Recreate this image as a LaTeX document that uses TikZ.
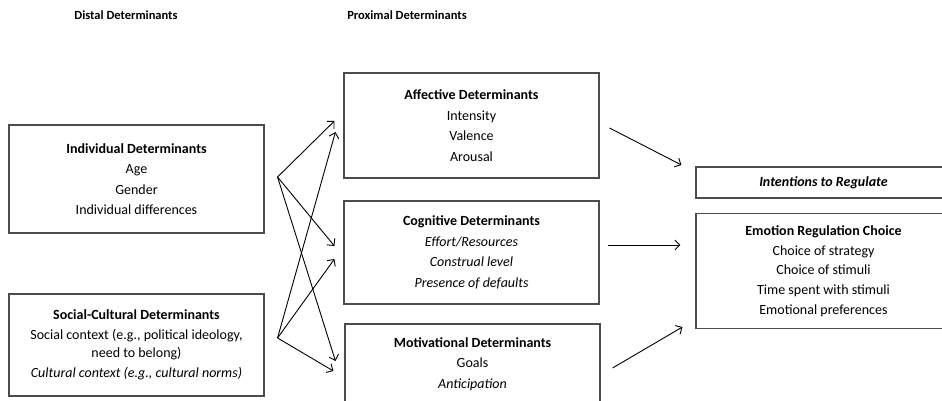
\documentclass[tikz,border=0pt]{standalone}
\usepackage{fontspec}
\setmainfont{Carlito}
\usetikzlibrary{positioning,arrows.meta,calc}
\tikzset{>={Straight Barb[length=5pt,width=10pt]}}

\begin{document}
\begin{tikzpicture}[x=1pt,y=-1pt]
    \tikzset{
      box/.style={draw=black!70, line width=1.1pt, align=center, inner sep=0pt, font=\fontsize{14}{20.5}\selectfont},
      head/.style={font=\fontsize{12.5}{14}\selectfont\bfseries},
      link/.style={->, line width=0.9pt},
    }
    \useasboundingbox (0,0) rectangle (942,401);

    % Column headings.
    \node[head] (distal)   at (126,15) {Distal Determinants};
    \node[head] (proximal) at (407,15) {Proximal Determinants};

    % Distal determinants.
    \node[box, minimum width=255pt, minimum height=108pt] (ind) at (136.5,179)
      {\textbf{Individual Determinants}\\ Age\\ Gender\\ Individual differences};
    \node[box, minimum width=255pt, minimum height=102pt] (soc) at (136.5,345)
      {\textbf{Social-Cultural Determinants}\\ Social context (e.g., political ideology,\\[-3pt] need to belong)\\ \textit{Cultural context (e.g., cultural norms)}};

    % Proximal determinants.
    \node[box, minimum width=255pt, minimum height=105pt] (aff) at (471.5,125.5)
      {\textbf{Affective Determinants}\\ Intensity\\ Valence\\ Arousal};
    \node[box, minimum width=255pt, minimum height=103pt] (cog) at (471.5,252.5)
      {\textbf{Cognitive Determinants}\\ \textit{Effort/Resources}\\ \textit{Construal level}\\ \textit{Presence of defaults}};
    \node[box, minimum width=255pt, minimum height=80pt] (mot) at (472.5,364)
      {\textbf{Motivational Determinants}\\ Goals\\ \textit{Anticipation}};

    % Outcomes.
    \node[box, minimum width=255pt, minimum height=31pt] (intent) at (823.5,182.5)
      {\textbf{\textit{Intentions to Regulate}}};
    \node[box, minimum width=255pt, minimum height=115pt, font=\fontsize{14}{19.75}\selectfont] (emo) at (823.5,271)
      {\textbf{Emotion Regulation Choice}\\ Choice of strategy\\ Choice of stimuli\\ Time spent with stimuli\\ Emotional preferences};

    % Fan points and arrow tips.
    \coordinate (indfan) at ([shift={(13,-2)}]ind.east);
    \coordinate (socfan) at ([shift={(13,-7)}]soc.east);
    \coordinate (affI) at ([shift={(-9,-4.5)}]aff.west);
    \coordinate (affS) at ([shift={(-8,6.5)}]aff.west);
    \coordinate (cogI) at ([shift={(-9,-6.5)}]cog.west);
    \coordinate (cogS) at ([shift={(-9,6.5)}]cog.west);
    \coordinate (motI) at ([shift={(-9,-3)}]mot.west);
    \coordinate (motS) at ([shift={(-11,7)}]mot.west);

    % Distal -> proximal.
    \foreach \t in {affI,cogI,motI} \draw[link] (indfan) -- (\t);
    \foreach \t in {affS,cogS,motS} \draw[link] (socfan) -- (\t);

    % Proximal -> outcomes.
    \draw[link] ([shift={(10,2.5)}]aff.east) -- ([shift={(-14,-17.5)}]intent.west);
    \draw[link] ([shift={(8,-7.5)}]cog.east) -- ([shift={(-15,-26)}]emo.west);
    \draw[link] ([shift={(12,4)}]mot.east)   -- ([shift={(-13,56)}]emo.west);
  \end{tikzpicture}
\end{document}
